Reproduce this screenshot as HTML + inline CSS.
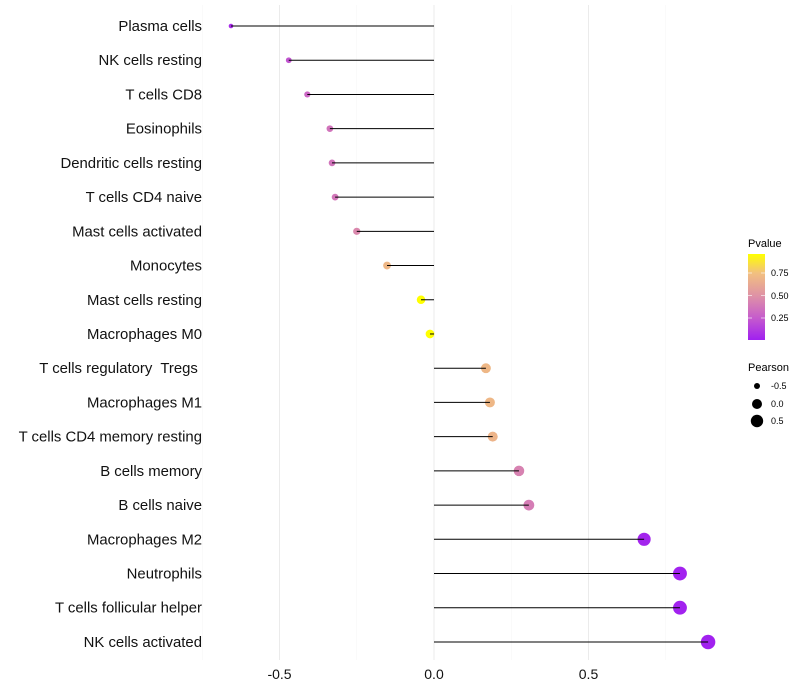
<!DOCTYPE html>
<html><head><meta charset="utf-8"><style>
body{margin:0;background:#fff;font-family:"Liberation Sans",sans-serif}
svg{display:block}
</style></head><body>
<svg id="chart" width="800" height="700" xmlns="http://www.w3.org/2000/svg">
<defs><linearGradient id="pgrad" x1="0" y1="1" x2="0" y2="0">
<stop offset="0" stop-color="#a020f0"/><stop offset="0.26" stop-color="#c65ccc"/><stop offset="0.52" stop-color="#df93a5"/><stop offset="0.78" stop-color="#f2c07f"/><stop offset="1" stop-color="#ffff00"/></linearGradient></defs>
<g id="grid"></g><g id="dots"></g><g id="marks"></g><g id="labels"></g>
<g font-size="10">
<text x="748" y="247" font-size="11">Pvalue</text>
<rect x="748" y="254" width="17" height="86" fill="url(#pgrad)"/>
<g stroke="#fff" stroke-opacity="0.6"><line x1="748" x2="752" y1="273" y2="273"/><line x1="761" x2="765" y1="273" y2="273"/><line x1="748" x2="752" y1="295.5" y2="295.5"/><line x1="761" x2="765" y1="295.5" y2="295.5"/><line x1="748" x2="752" y1="318" y2="318"/><line x1="761" x2="765" y1="318" y2="318"/></g>
<text x="771" y="276" font-size="9">0.75</text><text x="771" y="299" font-size="9">0.50</text><text x="771" y="321" font-size="9">0.25</text>
<text x="748" y="371" font-size="11">Pearson</text>
<circle cx="757" cy="386" r="3" fill="#000"/><text x="771" y="389" font-size="9">-0.5</text>
<circle cx="757" cy="404" r="5" fill="#000"/><text x="771" y="407" font-size="9">0.0</text>
<circle cx="757" cy="421" r="6.2" fill="#000"/><text x="771" y="424" font-size="9">0.5</text>
</g>
</svg>
<script>
const categories=["Plasma cells","NK cells resting","T cells CD8","Eosinophils","Dendritic cells resting","T cells CD4 naive","Mast cells activated","Monocytes","Mast cells resting","Macrophages M0","T cells regulatory  Tregs ","Macrophages M1","T cells CD4 memory resting","B cells memory","B cells naive","Macrophages M2","Neutrophils","T cells follicular helper","NK cells activated"];
const pearson=[-0.657,-0.47,-0.41,-0.337,-0.33,-0.32,-0.25,-0.152,-0.042,-0.013,0.168,0.181,0.19,0.275,0.307,0.68,0.796,0.796,0.887];
const pvalue=[0.05,0.22,0.3,0.36,0.36,0.37,0.45,0.7,0.96,0.96,0.7,0.7,0.68,0.42,0.4,0.02,0.01,0.01,0.005];
const xTicks=[-0.5,0,0.5];
const xTickLabels=["-0.5","0.0","0.5"];
const NS="http://www.w3.org/2000/svg";
const x=v=>434+v*309;
const y=i=>26+i*34.22;
const rad=v=>4.4+3.2*v;
const stops=[[0,[160,32,240]],[0.26,[198,92,204]],[0.52,[223,147,165]],[0.78,[242,192,127]],[1,[255,255,0]]];
function col(p){p=Math.max(0,Math.min(1,p/0.96));for(let k=1;k<stops.length;k++){if(p<=stops[k][0]){const a=stops[k-1],b=stops[k],t=(p-a[0])/(b[0]-a[0]);return"rgb("+a[1].map((c,j)=>Math.round(c+(b[1][j]-c)*t)).join(",")+")";}}return"rgb(255,255,0)";}
function mk(tag,at,par){const e=document.createElementNS(NS,tag);for(const k in at)e.setAttribute(k,at[k]);document.getElementById(par).appendChild(e);return e;}
[-0.75,-0.25,0.25,0.75].forEach(v=>{const l=mk("line",{x1:x(v),x2:x(v),y1:5,y2:660,stroke:"#f4f4f4","stroke-width":0.5},"grid");

});
xTicks.forEach((v,i)=>{const l=mk("line",{x1:x(v),x2:x(v),y1:5,y2:660,stroke:"#ebebeb","stroke-width":1},"grid");


const t=mk("text",{x:x(v),y:679,"text-anchor":"middle","font-size":14,fill:"#111"},"labels");t.textContent=xTickLabels[i];

});
categories.forEach((c,i)=>{
const d=mk("circle",{cx:x(pearson[i]),cy:y(i),r:rad(pearson[i]),fill:col(pvalue[i])},"dots");


const l=mk("line",{x1:x(0),x2:x(pearson[i]),y1:y(i),y2:y(i),stroke:"#000","stroke-width":1},"marks");


const t=mk("text",{x:202,y:y(i)+5,"text-anchor":"end","font-size":14.9,fill:"#111"},"labels");t.textContent=c;


t.setAttribute('xml:space','preserve');t.style.whiteSpace="pre";});
</script>
</body></html>
